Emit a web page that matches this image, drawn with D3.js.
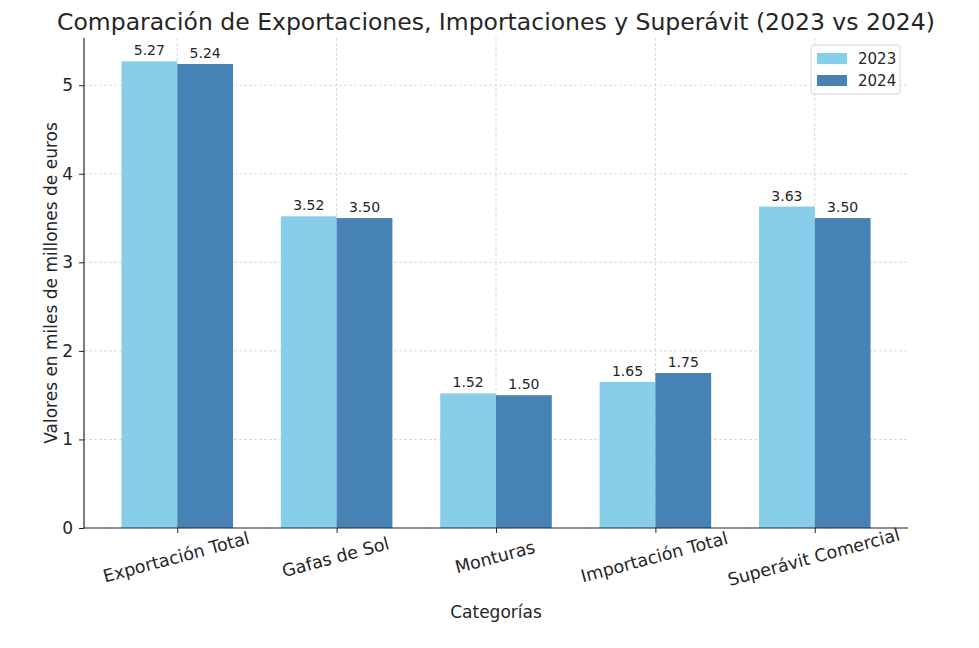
<!DOCTYPE html>
<html>
<head>
<meta charset="utf-8">
<script src="https://cdn.jsdelivr.net/npm/d3@7"></script>
<style>
  body { margin: 0; background: #fff; }
  text { font-family: "DejaVu Sans", sans-serif; fill: #262626; }
</style>
</head>
<body>
<div id="chart"></div>
<script>
// chart data
var categories = ["Exportación Total", "Gafas de Sol", "Monturas", "Importación Total", "Superávit Comercial"];
var values2023 = [5.27, 3.52, 1.52, 1.65, 3.63];
var values2024 = [5.24, 3.50, 1.50, 1.75, 3.50];
var yTicks = [0, 1, 2, 3, 4, 5];
var years = ["2023", "2024"];
var colors = ["#87CEEB", "#4682B4"];

var svgWidth = 979;
var svgHeight = 648;

var margin = { top: 38, right: 71, bottom: 120, left: 84 };
var width = svgWidth - margin.left - margin.right;
var height = svgHeight - margin.top - margin.bottom;

var svg = d3.select("#chart")
  .append("svg")
  .attr("width", svgWidth)
  .attr("height", svgHeight);

var g = svg.append("g")
  .attr("transform", `translate(${margin.left}, ${margin.top})`);

var barW = 0.35;
var yMax = d3.max(values2023.concat(values2024)) * 1.05;

// numeric x scale, like matplotlib's bar positions
var span = categories.length - 1 + 2 * barW;
var xScale = d3.scaleLinear()
  .domain([-barW - 0.05 * span, categories.length - 1 + barW + 0.05 * span])
  .range([0, width]);

var yScale = d3.scaleLinear()
  .domain([0, yMax])
  .range([height, 0]);

// grid lines
g.append("g")
  .selectAll("line")
  .data(yTicks)
  .enter()
  .append("line")
  .attr("x1", 0)
  .attr("x2", width)
  .attr("y1", d => yScale(d))
  .attr("y2", d => yScale(d))
  .attr("stroke", "#cfcfcf")
  .attr("stroke-width", 0.8)
  .attr("stroke-dasharray", "3,2");

g.append("g")
  .selectAll("line")
  .data(categories)
  .enter()
  .append("line")
  .attr("x1", (d, i) => xScale(i))
  .attr("x2", (d, i) => xScale(i))
  .attr("y1", 0)
  .attr("y2", height)
  .attr("stroke", "#cfcfcf")
  .attr("stroke-width", 0.8)
  .attr("stroke-dasharray", "3,2");

// bars
var series = [values2023, values2024];
var offsets = [-barW, 0];
series.forEach(function(vals, s) {
  g.append("g")
    .selectAll("rect")
    .data(vals)
    .enter()
    .append("rect")
    .attr("x", (d, i) => xScale(i + offsets[s]))
    .attr("y", d => yScale(d))
    .attr("width", xScale(barW) - xScale(0))
    .attr("height", d => height - yScale(d))
    .attr("fill", colors[s]);

  g.append("g")
    .selectAll("text")
    .data(vals)
    .enter()
    .append("text")
    .attr("x", (d, i) => xScale(i + offsets[s] + barW / 2))
    .attr("y", d => yScale(d) - 6)
    .attr("text-anchor", "middle")
    .style("font-size", "14px")
    .text(d => d.toFixed(2));
});

// axes
var leftAxis = d3.axisLeft(yScale).tickValues(yTicks).tickSize(5).tickPadding(6).tickFormat(d3.format("d"));
var yAxis = g.append("g").call(leftAxis);
yAxis.select(".domain").attr("stroke", "#262626").attr("stroke-width", 1.2).attr("d", `M0,0V${height}`);
yAxis.selectAll(".tick line").attr("stroke", "#262626");
yAxis.selectAll(".tick text").style("font-size", "17px").attr("fill", "#262626");

var bottomAxis = d3.axisBottom(xScale).tickValues(d3.range(categories.length)).tickSize(5).tickFormat(i => categories[i]);
var xAxis = g.append("g")
  .attr("transform", `translate(0, ${height})`)
  .call(bottomAxis);
xAxis.select(".domain").attr("stroke", "#262626").attr("stroke-width", 1.2).attr("d", `M0,0H${width}`);
xAxis.selectAll(".tick line").attr("stroke", "#262626");
xAxis.selectAll(".tick text")
  .style("font-size", "17.5px")
  .attr("fill", "#262626")
  .attr("text-anchor", "middle")
  .attr("y", 0)
  .attr("dy", 0)
  .attr("transform", "translate(0, 35) rotate(-15)");

// axis labels
g.append("text")
  .attr("x", width / 2)
  .attr("y", height + 90)
  .attr("text-anchor", "middle")
  .style("font-size", "17px")
  .text("Categorías");

g.append("text")
  .attr("transform", "rotate(-90)")
  .attr("x", -height / 2)
  .attr("y", -27)
  .attr("text-anchor", "middle")
  .style("font-size", "17px")
  .text("Valores en miles de millones de euros");

// title
svg.append("text")
  .attr("x", margin.left + width / 2)
  .attr("y", 30)
  .attr("text-anchor", "middle")
  .style("font-size", "23.5px")
  .text("Comparación de Exportaciones, Importaciones y Superávit (2023 vs 2024)");

// legend
var legend = svg.append("g").attr("transform", "translate(811, 45)");
legend.append("rect")
  .attr("width", 89)
  .attr("height", 49)
  .attr("rx", 3)
  .attr("fill", "#fff")
  .attr("fill-opacity", 0.8)
  .attr("stroke", "#d6d6d6");
years.forEach(function(y, i) {
  legend.append("rect")
    .attr("x", 6)
    .attr("y", 8 + i * 22)
    .attr("width", 30)
    .attr("height", 11)
    .attr("fill", colors[i]);
  legend.append("text")
    .attr("x", 47)
    .attr("y", 19 + i * 22)
    .style("font-size", "15px")
    .text(y);
});
</script>
</body>
</html>
